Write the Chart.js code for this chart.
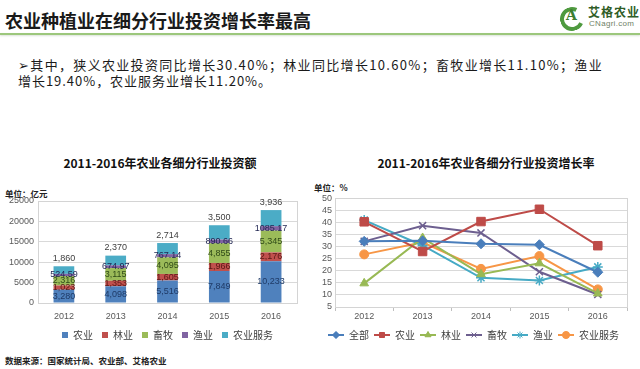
<!DOCTYPE html>
<html>
<head>
<meta charset="utf-8">
<script src="https://cdn.jsdelivr.net/npm/chart.js@4.4.0/dist/chart.umd.min.js"></script>
<style>
body { margin:0; width:640px; height:369px; background:#fff; position:relative; overflow:hidden; font-family:"Noto Sans CJK SC", sans-serif; color:#222; }
.abs { position:absolute; white-space:nowrap; }
#titulo { left:5px; top:8px; font-size:18px; font-weight:700; line-height:24px; color:#1a1a1a; }
#linea { left:0; top:33px; width:640px; height:2px; background:#9cc77c; box-shadow:0 1px 2px rgba(150,170,140,0.35); }
#logoC { left:560px; top:7px; width:16px; height:16px; border:4px solid #4f9a3f; border-right-color:transparent; border-radius:50%; transform:rotate(-20deg); }
#logoA { left:566px; top:7px; font:700 14px "DejaVu Serif", serif; color:#3d7f30; }
#logoTexto { left:588px; top:3px; font-size:12px; font-weight:700; color:#2f5d27; letter-spacing:1px; }
#logoWeb { left:589px; top:19px; font:8px "Liberation Sans", sans-serif; color:#6f7f66; letter-spacing:0.3px; }
.viñeta { left:18px; font-size:13px; line-height:16px; color:#1a1a1a; }
.tituloGrafico { font-size:12px; font-weight:700; line-height:16px; color:#111; transform:translateX(-50%); }
.unidad { font-size:8.5px; font-weight:700; line-height:10px; color:#222; }
#fuente { left:5px; top:354px; font-size:8.5px; font-weight:700; line-height:12px; color:#222; }
canvas { position:absolute; }
</style>
</head>
<body>
<div class="abs" id="titulo">农业种植业在细分行业投资增长率最高</div>
<div class="abs" id="linea"></div>
<div class="abs" id="logoC"></div>
<div class="abs" id="logoA">A</div>
<div class="abs" id="logoTexto">艾格农业</div>
<div class="abs" id="logoWeb">CNagri.com</div>

<div class="abs viñeta" id="linea1" style="top:57px">➢其中，狭义农业投资同比增长30.40%；林业同比增长10.60%；畜牧业增长11.10%；渔业</div>
<div class="abs viñeta" id="linea2" style="top:73px">增长19.40%，农业服务业增长11.20%。</div>

<div class="abs tituloGrafico" style="left:160px; top:155px">2011-2016年农业各细分行业投资额</div>
<div class="abs tituloGrafico" style="left:486px; top:155px">2011-2016年农业各细分行业投资增长率</div>
<div class="abs unidad" style="left:5px; top:188px">单位：亿元</div>
<div class="abs unidad" style="left:314px; top:182px">单位：%</div>

<canvas id="graficoInversion" width="320" height="160" style="left:0; top:190px"></canvas>
<canvas id="graficoCrecimiento" width="320" height="160" style="left:320px; top:190px"></canvas>

<div class="abs" id="fuente">数据来源：国家统计局、农业部、艾格农业</div>

<script>
// ===================================== Datos ==================
const anos = ['2012', '2013', '2014', '2015', '2016'];

// Inversión (亿元), apilado de abajo hacia arriba
const nombresInversion = ['农业', '林业', '畜牧', '渔业', '农业服务'];
const invNongye = [3280, 4098, 5516, 7849, 10233];
const invLinye = [1023, 1353, 1605, 1966, 2176];
const invXumu = [2316, 3115, 4095, 4855, 5345];
const invYuye = [524.59, 674.97, 767.14, 890.66, 1085.17];
const invFuwu = [1860, 2370, 2714, 3500, 3936];
const ticksInversion = [0, 5000, 10000, 15000, 20000, 25000];

// Crecimiento (%)
const nombresCrecimiento = ['全部', '农业', '林业', '畜牧', '渔业', '农业服务'];
const crecQuanbu = [32.2, 32.4, 31.2, 30.8, 19.4];
const crecNongye = [40.3, 28.0, 40.4, 45.5, 30.4];
const crecLinye = [14.8, 33.6, 18.6, 23.1, 10.6];
const crecXumu = [32.2, 38.7, 35.7, 19.6, 10.2];
const crecYuye = [41.0, 30.5, 17.1, 16.0, 21.6];
const crecFuwu = [26.8, 31.8, 20.8, 26.1, 12.3];
const ticksCrecimiento = [5, 10, 15, 20, 25, 30, 35, 40, 45, 50];


// ===================================== Ajusta el ancho de las líneas de texto ==================
function ajustarLinea(id, ancho) {
    const el = document.getElementById(id);
    const n = el.textContent.length;
    const extra = (ancho - el.getBoundingClientRect().width) / n;
    el.style.letterSpacing = extra + 'px';
}
ajustarLinea('linea1', 585);
ajustarLinea('linea2', 254);


// ===================================== Configuración general ==================
const fuenteNum = '"Liberation Sans", "Noto Sans CJK SC", sans-serif';
Chart.defaults.font.family = fuenteNum;
Chart.defaults.color = '#595959';

// Marco gris alrededor del área del gráfico
const marcoPlugin = {
    id: 'marco',
    beforeDatasetsDraw(chart) {
        const a = chart.chartArea;
        const ctx = chart.ctx;
        ctx.save();
        ctx.strokeStyle = '#d4d4d4';
        ctx.lineWidth = 1;
        ctx.strokeRect(Math.round(a.left) + 0.5, Math.round(a.top) + 0.5, Math.round(a.right - a.left), Math.round(a.bottom - a.top));
        ctx.restore();
    }
};

// Etiquetas de valor dentro de las barras
const etiquetasPlugin = {
    id: 'etiquetas',
    afterDatasetsDraw(chart) {
        const ctx = chart.ctx;
        const ultimo = chart.data.datasets.length - 1;
        ctx.save();
        ctx.font = '9px ' + fuenteNum;
        ctx.textAlign = 'center';
        ctx.textBaseline = 'middle';
        chart.data.datasets.forEach((ds, i) => {
            const meta = chart.getDatasetMeta(i);
            meta.data.forEach((barra, j) => {
                const v = ds.data[j];
                const texto = ds.decimales ? v.toFixed(2) : v.toLocaleString('en-US');
                let y;
                if (i === ultimo) {
                    y = barra.y - 8;
                    ctx.fillStyle = '#404040';
                } else {
                    y = (barra.y + barra.base) / 2;
                    ctx.fillStyle = ds.colorEtiqueta;
                }
                ctx.fillText(texto, barra.x, y);
            });
        });
        ctx.restore();
    }
};


// ===================================== Gráfico de inversión ==================
const coloresBarras = ['#4f81bd', '#c0504d', '#9bbb59', '#8064a2', '#4bacc6'];
const coloresEtiquetas = ['#1f3a66', '#5a1816', '#2f4a18', '#1f2450', '#404040'];
const seriesInversion = [invNongye, invLinye, invXumu, invYuye, invFuwu];

new Chart(document.getElementById('graficoInversion'), {
    type: 'bar',
    data: {
        labels: anos,
        datasets: seriesInversion.map((serie, i) => ({
            label: nombresInversion[i],
            data: serie,
            backgroundColor: coloresBarras[i],
            colorEtiqueta: coloresEtiquetas[i],
            decimales: i === 3,
            barPercentage: 0.5,
            categoryPercentage: 0.8
        }))
    },
    options: {
        responsive: false,
        animation: false,
        layout: { padding: { top: 11, right: 23, left: 0, bottom: 0 } },
        scales: {
            x: {
                stacked: true,
                grid: { display: false },
                border: { color: '#bfbfbf' },
                ticks: { font: { size: 9 }, padding: 0 },
                afterFit: s => { s.height = 18; }
            },
            y: {
                stacked: true,
                min: ticksInversion[0],
                max: ticksInversion[ticksInversion.length - 1],
                afterBuildTicks: s => { s.ticks = ticksInversion.map(v => ({ value: v })); },
                ticks: { font: { size: 9 }, padding: 4, autoSkip: false, callback: v => String(v) },
                grid: { color: '#d9d9d9', drawTicks: false },
                border: { display: false },
                afterFit: s => { s.width = 38; }
            }
        },
        plugins: {
            legend: {
                position: 'bottom',
                fullSize: false,
                labels: {
                    boxWidth: 6, boxHeight: 6, padding: 9,
                    color: '#404040',
                    font: { size: 10, family: '"Noto Sans CJK SC", sans-serif' }
                }
            },
            tooltip: { enabled: false }
        }
    },
    plugins: [marcoPlugin, etiquetasPlugin]
});


// ===================================== Gráfico de crecimiento ==================
const coloresLineas = ['#4a7ebb', '#be4b48', '#98b954', '#6d5f8f', '#46aac5', '#f79646'];
const estilosPuntos = ['rectRot', 'rect', 'triangle', 'crossRot', 'star', 'circle'];
const radiosPuntos = [5, 6, 5, 5, 5, 4.5];
const seriesCrecimiento = [crecQuanbu, crecNongye, crecLinye, crecXumu, crecYuye, crecFuwu];

// Ícono de leyenda: línea con su marcador
function crearIcono(i) {
    const c = document.createElement('canvas');
    c.width = 16; c.height = 10;
    const ctx = c.getContext('2d');
    ctx.strokeStyle = coloresLineas[i];
    ctx.lineWidth = 2;
    ctx.beginPath(); ctx.moveTo(0, 5); ctx.lineTo(16, 5); ctx.stroke();
    ctx.fillStyle = coloresLineas[i];
    ctx.lineWidth = 1;
    if (Chart.helpers && Chart.helpers.drawPoint) {
        Chart.helpers.drawPoint(ctx, { pointStyle: estilosPuntos[i], radius: 3.5, borderWidth: 1.2, rotation: 0 }, 8, 5);
        if (['crossRot', 'star'].indexOf(estilosPuntos[i]) < 0) ctx.fill();
    } else {
        ctx.beginPath(); ctx.arc(8, 5, 3, 0, Math.PI * 2); ctx.fill();
    }
    return c;
}
const iconos = nombresCrecimiento.map((n, i) => crearIcono(i));

new Chart(document.getElementById('graficoCrecimiento'), {
    type: 'line',
    data: {
        labels: anos,
        datasets: seriesCrecimiento.map((serie, i) => ({
            label: nombresCrecimiento[i],
            data: serie,
            borderColor: coloresLineas[i],
            backgroundColor: coloresLineas[i],
            borderWidth: 2,
            pointStyle: estilosPuntos[i],
            pointRadius: radiosPuntos[i],
            pointBorderWidth: estilosPuntos[i] === 'crossRot' || estilosPuntos[i] === 'star' ? 1.5 : 1,
            tension: 0
        }))
    },
    options: {
        responsive: false,
        animation: false,
        layout: { padding: { top: 8, right: 13, left: 0, bottom: 0 } },
        scales: {
            x: {
                offset: true,
                grid: { offset: true, drawOnChartArea: false, drawTicks: true, tickLength: 4, color: '#bfbfbf' },
                border: { color: '#bfbfbf' },
                ticks: { font: { size: 9 }, padding: 0 },
                afterFit: s => { s.height = 18; }
            },
            y: {
                min: ticksCrecimiento[0],
                max: ticksCrecimiento[ticksCrecimiento.length - 1],
                afterBuildTicks: s => { s.ticks = ticksCrecimiento.map(v => ({ value: v })); },
                ticks: { font: { size: 9 }, padding: 3, autoSkip: false },
                grid: { color: '#d9d9d9', drawTicks: false },
                border: { display: false },
                afterFit: s => { s.width = 15; }
            }
        },
        plugins: {
            legend: {
                position: 'bottom',
                labels: {
                    usePointStyle: true,
                    pointStyleWidth: 16,
                    padding: 5,
                    color: '#404040',
                    font: { size: 10, family: '"Noto Sans CJK SC", sans-serif' },
                    generateLabels: chart => Chart.defaults.plugins.legend.labels.generateLabels(chart)
                        .map((it, i) => Object.assign(it, { pointStyle: iconos[i] }))
                }
            },
            tooltip: { enabled: false }
        }
    },
    plugins: [marcoPlugin]
});
</script>
</body>
</html>
